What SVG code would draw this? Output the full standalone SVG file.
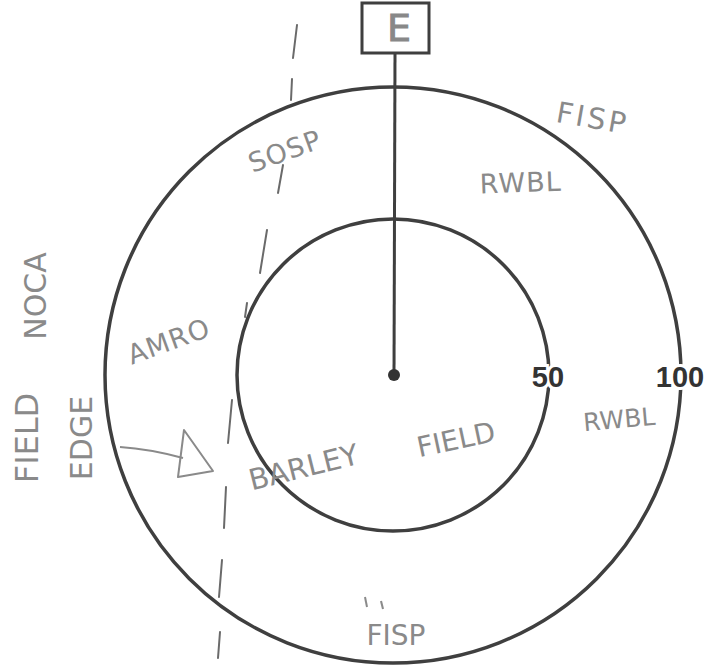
<svg xmlns="http://www.w3.org/2000/svg" width="710" height="667" viewBox="0 0 710 667">
<style>
.ring{fill:none;stroke:#3f3f3f;stroke-width:3.5}
.hand{font-family:"DejaVu Sans",sans-serif;fill:#8a8a8a;text-anchor:middle}
.num{font-family:"Liberation Sans",Arial,sans-serif;font-weight:bold;font-size:29px;fill:#333;text-anchor:middle;stroke:#fff;stroke-width:6;paint-order:stroke}
.dash{stroke:#6a6a6a;stroke-width:2;stroke-linecap:round;fill:none}
</style>
<rect width="710" height="667" fill="#fff"/>
<g id="field-edge-line">
<line class="dash" x1="297" y1="25" x2="293" y2="58"/>
<line class="dash" x1="292" y1="79" x2="291" y2="100"/>
<line class="dash" x1="283" y1="165" x2="278" y2="193"/>
<line class="dash" x1="267" y1="230" x2="260" y2="273" stroke="#999"/>
<line class="dash" x1="247" y1="303" x2="245" y2="317"/>
<line class="dash" x1="232" y1="400" x2="228" y2="443" stroke="#999"/>
<line class="dash" x1="226" y1="487" x2="224" y2="528" stroke="#999"/>
<line class="dash" x1="222" y1="560" x2="219" y2="597" stroke="#999"/>
<line class="dash" x1="220" y1="632" x2="218" y2="658" stroke="#999"/>
</g>
<g id="outer-ring"><circle class="ring" cx="393" cy="375" r="288"/></g>
<g id="inner-ring"><circle class="ring" cx="393" cy="375" r="156"/></g>
<g id="connectors">
<line x1="395" y1="53" x2="394" y2="375" stroke="#3f3f3f" stroke-width="3"/>
<circle cx="394" cy="375" r="6" fill="#333"/>
<path d="M120,447 Q150,449 183,458" fill="none" stroke="#8a8a8a" stroke-width="2"/>
<polygon points="184,430 213,471 178,477" fill="none" stroke="#8a8a8a" stroke-width="2" stroke-linejoin="round"/>
</g>
<g id="E">
<rect x="362" y="3" width="67" height="50" fill="#fff" stroke="#3f3f3f" stroke-width="3"/>
<text x="399" y="41" font-family="DejaVu Sans,sans-serif" font-size="38" fill="#888" stroke="#888" stroke-width="1" text-anchor="middle">E</text>
</g>
<g id="label-50"><text class="num" x="548" y="387">50</text></g>
<g id="label-100"><text class="num" x="680" y="387">100</text></g>
<g id="FISP-top"><text class="hand" font-size="29" letter-spacing="3" transform="translate(591,128) rotate(10)">FISP</text></g>
<g id="RWBL-top"><text class="hand" font-size="27" letter-spacing="1" transform="translate(521,192) rotate(-2)">RWBL</text></g>
<g id="SOSP"><text class="hand" font-size="27" letter-spacing="1" transform="translate(288,160) rotate(-20)">SOSP</text></g>
<g id="AMRO"><text class="hand" font-size="27" letter-spacing="1" transform="translate(172,350) rotate(-20)">AMRO</text></g>
<g id="NOCA"><text class="hand" font-size="30" transform="translate(46,296) rotate(-90)">NOCA</text></g>
<g id="FIELD-edge"><text class="hand" font-size="32" transform="translate(38,438) rotate(-90)">FIELD</text></g>
<g id="EDGE"><text class="hand" font-size="30" transform="translate(92,438) rotate(-90)">EDGE</text></g>
<g id="BARLEY"><text class="hand" font-size="29" transform="translate(306,477) rotate(-14)">BARLEY</text></g>
<g id="FIELD-inner"><text class="hand" font-size="28" transform="translate(458,449) rotate(-12)">FIELD</text></g>
<g id="RWBL-right"><text class="hand" font-size="25" transform="translate(620,428) rotate(-5)">RWBL</text></g>
<g id="FISP-bottom">
<line x1="365" y1="597" x2="367" y2="607" stroke="#8a8a8a" stroke-width="2"/>
<line x1="381" y1="601" x2="383" y2="609" stroke="#8a8a8a" stroke-width="2"/>
<text class="hand" font-size="28" x="396" y="645">FISP</text>
</g>
</svg>
